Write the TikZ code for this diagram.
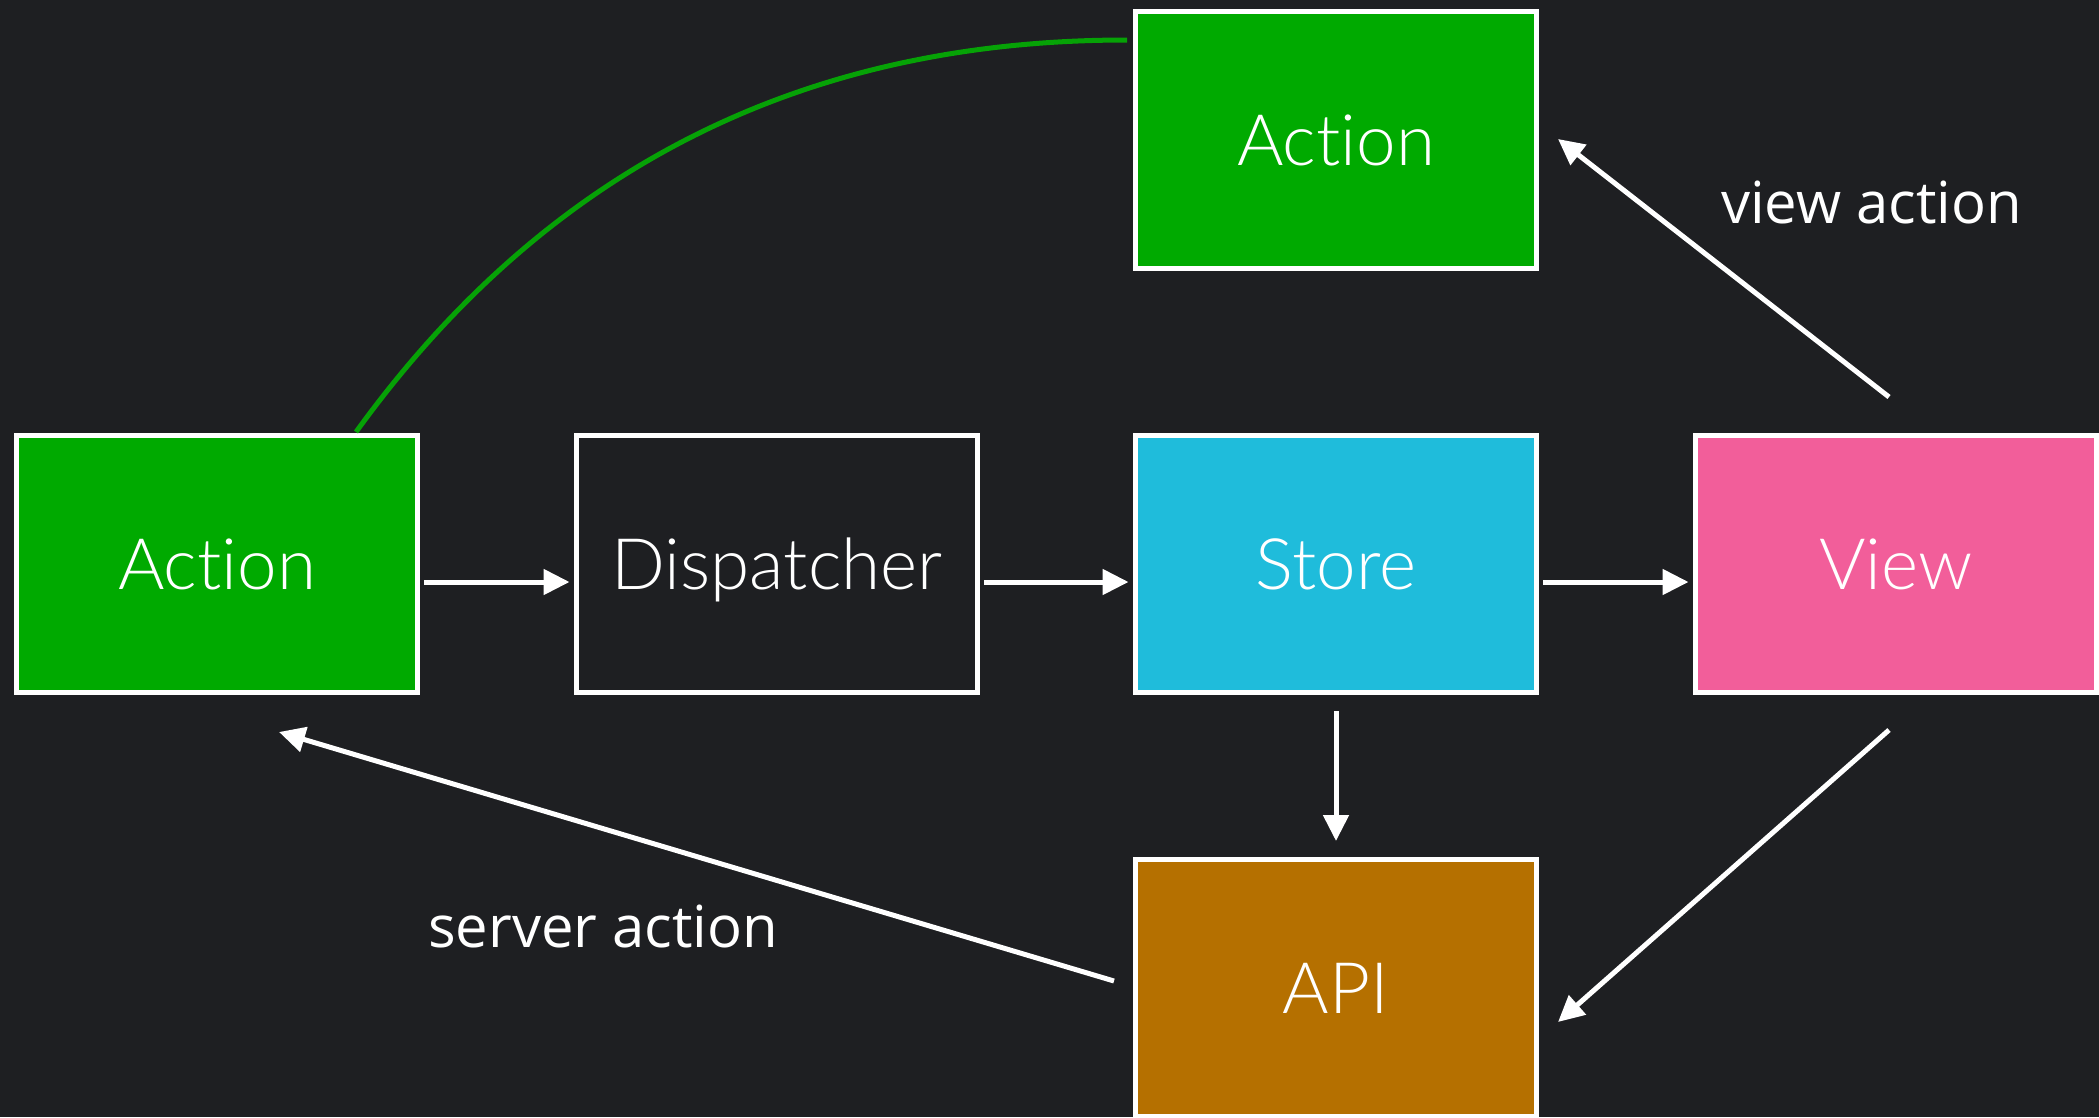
\documentclass[tikz,border=0pt]{standalone}
\usepackage{fontspec}
\usetikzlibrary{arrows.meta,calc}
\newfontfamily\boxfont[RawFeature={-liga;-clig;-dlig}]{Lato Light}
\newfontfamily\labelfont{Open Sans}
\definecolor{bgcol}{HTML}{1E1F22}
\definecolor{actgreen}{HTML}{00AA00}
\definecolor{linkgreen}{HTML}{06A206}
\definecolor{storecyan}{HTML}{1FBCDB}
\definecolor{viewpink}{HTML}{F25E9A}
\definecolor{apibrown}{HTML}{B57000}
\tikzset{
  box/.style={draw=white, line width=5pt, minimum width=401pt, minimum height=257pt,
    inner sep=0pt, text height=51pt, text depth=0pt, text=white,
    font=\boxfont\fontsize{71pt}{80pt}\selectfont},
  flow/.style={draw=white, line width=5pt, -{Triangle[length=26pt,width=25pt]}},
  tag/.style={text=white, anchor=base west, inner sep=0pt,
    font=\labelfont\fontsize{58pt}{66pt}\selectfont}
}
\begin{document}
\begin{tikzpicture}[x=1pt,y=-1pt]
  % canvas
  \fill[bgcol] (0,0) rectangle (2099,1117);
  \useasboundingbox (0,0) rectangle (2099,1117);

  % boxes
  \node[box, fill=actgreen]  (act)   at (217,564)  {Action};
  \node[box, fill=bgcol]     (disp)  at (777,564)  {Dispatcher};
  \node[box, fill=storecyan] (store) at (1336,564) {Store};
  \node[box, fill=viewpink]  (view)  at (1896,564) {View};
  \node[box, fill=actgreen]  (vact)  at (1336,140) {Action};
  \node[box, fill=apibrown]  (api)   at (1336,988) {API};

  % main flow
  \draw[flow] ($(act.east)+(4,18)$)   -- ($(disp.west)+(-4.5,18)$);
  \draw[flow] ($(disp.east)+(4,18)$)  -- ($(store.west)+(-4.5,18)$);
  \draw[flow] ($(store.east)+(4,18)$) -- ($(view.west)+(-4.5,18)$);
  \draw[flow] ($(store.south)+(0,16)$) -- ($(api.north)+(0,-16)$);

  % view-triggered paths
  \draw[flow] ($(view.north)+(-7,-36)$) -- ($(vact.east)+(19,-1)$);
  \draw[flow] ($(view.south)+(-7,35)$)  -- ($(api.east)+(19,34)$);

  % server response
  \draw[flow] ($(api.west)+(-19,-7)$) -- ($(act.south)+(62,37)$);

  % new action feeding back
  \draw[linkgreen, line width=5pt]
    ($(act.north)+(139,-1)$) .. controls (562,147) and (830,40) .. ($(vact.west)+(-6,-100)$);

  % labels
  \node[tag] (lview)   at (1721,223) {view action};
  \node[tag] (lserver) at (428,947)  {server action};
\end{tikzpicture}
\end{document}
